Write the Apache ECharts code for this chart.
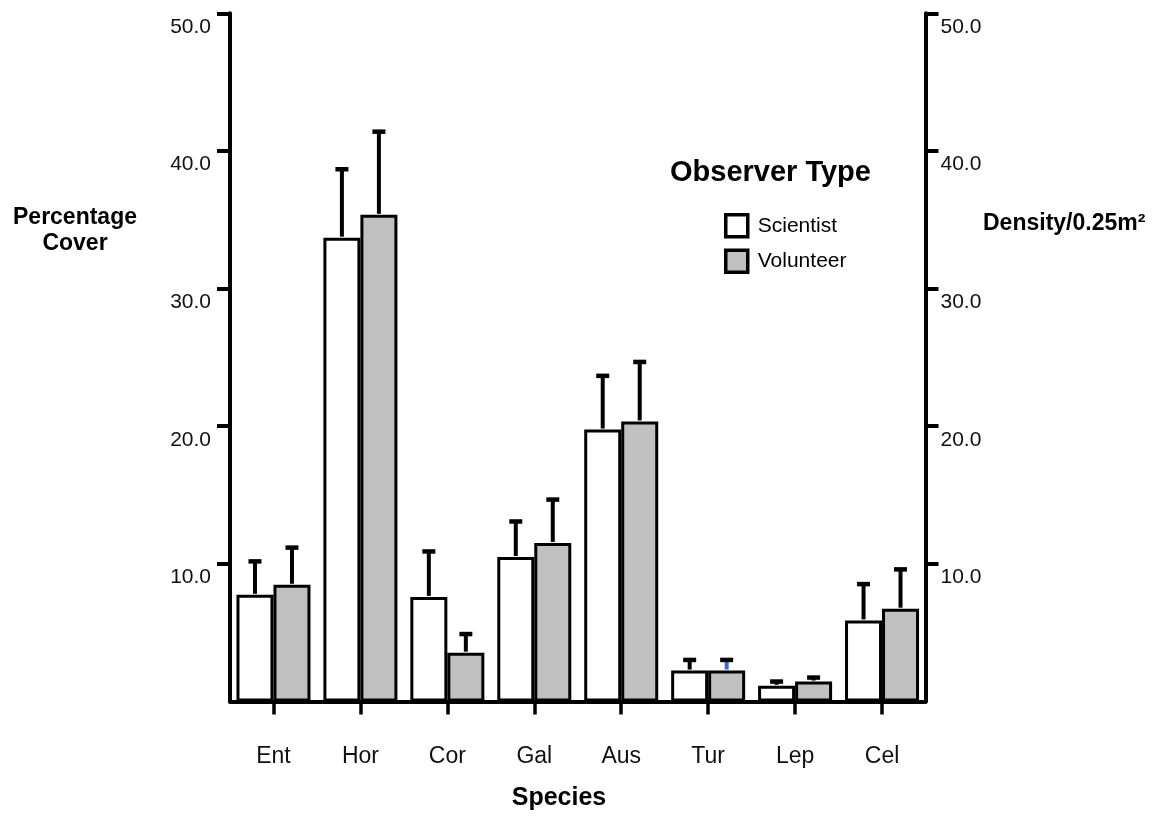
<!DOCTYPE html>
<html>
<head>
<meta charset="utf-8">
<script src="https://cdn.jsdelivr.net/npm/echarts@6/dist/echarts.min.js"></script>
<style>
html,body{margin:0;padding:0;background:#fff;}
#chart{width:1159px;height:834px;}
</style>
</head>
<body>
<div id="chart"></div>
<script>
// ---- data ----
const categories = ['Ent', 'Hor', 'Cor', 'Gal', 'Aus', 'Tur', 'Lep', 'Cel'];
const scientistMean = [7.75, 33.7, 7.6, 10.5, 19.76, 2.25, 1.14, 5.89];
const scientistErr  = [2.43, 4.97, 3.3, 2.58, 3.9, 0.77, 0.31, 2.64];
const volunteerMean = [8.48, 35.36, 3.55, 11.52, 20.35, 2.25, 1.45, 6.74];
const volunteerErr  = [2.7, 6.04, 1.35, 3.15, 4.32, 0.77, 0.29, 2.86];
const yTicks = [10, 20, 30, 40, 50];
const seriesNames = ['Scientist', 'Volunteer'];

const FONT = "'Liberation Sans', Arial, sans-serif";
const BAR_W = 37;

const chart = echarts.init(document.getElementById('chart'), null, {renderer: 'canvas'});

function errSeries(means, errs, side, stemColorFn) {
  return {
    type: 'custom',
    z: 5,
    silent: true,
    data: means.map((m, i) => [i, m, m + errs[i]]),
    renderItem(params, api) {
      const i = api.value(0);
      const base = api.coord([i, api.value(1)]);
      const top = api.coord([i, api.value(2)]);
      const x = base[0] + side * BAR_W / 2;
      const stem = stemColorFn ? stemColorFn(i) : '#000';
      return {
        type: 'group',
        children: [
          {type: 'line', shape: {x1: x, y1: base[1] - 1, x2: x, y2: top[1]}, style: {stroke: stem, lineWidth: 4}},
          {type: 'line', shape: {x1: x - 6.5, y1: top[1], x2: x + 6.5, y2: top[1]}, style: {stroke: '#000', lineWidth: 4.5}}
        ]
      };
    }
  };
}

function yAxisDef(pos) {
  return {
    type: 'value',
    position: pos,
    min: 0, max: 50, interval: 10,
    axisLine: {show: true, lineStyle: {color: '#000', width: 4}},
    axisTick: {show: true, length: 13, lineStyle: {color: '#000', width: 4}, customValues: yTicks},
    axisLabel: {
      customValues: yTicks,
      formatter: v => v.toFixed(1),
      fontFamily: FONT, fontSize: 21, color: '#111',
      verticalAlign: 'top',
      padding: [3, 0, 0, 0],
      margin: pos === 'left' ? 19 : 15
    },
    splitLine: {show: false}
  };
}

const option = {
  backgroundColor: '#fff',
  animation: false,
  grid: {left: 230, right: 233.5, top: 13.3, bottom: 132.5, containLabel: false},
  legend: {
    orient: 'vertical',
    left: 719, top: 208,
    itemWidth: 22, itemHeight: 22, itemGap: 10,
    icon: 'rect',
    data: seriesNames,
    textStyle: {fontFamily: FONT, fontSize: 21, color: '#000', padding: [0, 0, 0, 5]},
    itemStyle: {borderColor: '#000', borderWidth: 3.5},
    selectedMode: false
  },
  xAxis: {
    type: 'category',
    data: categories,
    axisLine: {show: true, lineStyle: {color: '#000', width: 4}},
    axisTick: {show: true, alignWithLabel: true, length: 13, lineStyle: {color: '#000', width: 3.5}},
    axisLabel: {fontFamily: FONT, fontSize: 23, color: '#111', margin: 44}
  },
  yAxis: [yAxisDef('left'), yAxisDef('right')],
  graphic: [
    {type: 'text', x: 75, y: 205, style: {text: 'Percentage\nCover', fontFamily: FONT, fontSize: 23, fontWeight: 'bold', fill: '#000', align: 'center', lineHeight: 26}},
    {type: 'text', x: 983, y: 212, style: {text: 'Density/0.25m²', fontFamily: FONT, fontSize: 23, fontWeight: 'bold', fill: '#000'}},
    {type: 'text', x: 559, y: 786, style: {text: 'Species', fontFamily: FONT, fontSize: 25, fontWeight: 'bold', fill: '#000', align: 'center'}},
    {type: 'text', x: 670, y: 158, style: {text: 'Observer Type', fontFamily: FONT, fontSize: 29, fontWeight: 'bold', fill: '#000'}}
  ],
  series: [
    {
      name: seriesNames[0], type: 'bar', data: scientistMean,
      barWidth: BAR_W, barGap: '0%',
      itemStyle: {color: '#ffffff', borderColor: '#000', borderWidth: 3}
    },
    {
      name: seriesNames[1], type: 'bar', data: volunteerMean,
      barWidth: BAR_W, barGap: '0%',
      itemStyle: {color: '#c0c0c0', borderColor: '#000', borderWidth: 3}
    },
    errSeries(scientistMean, scientistErr, -1),
    errSeries(volunteerMean, volunteerErr, 1, i => (i === 5 ? '#3a6fd0' : '#000'))
  ]
};
chart.setOption(option);
</script>
</body>
</html>
